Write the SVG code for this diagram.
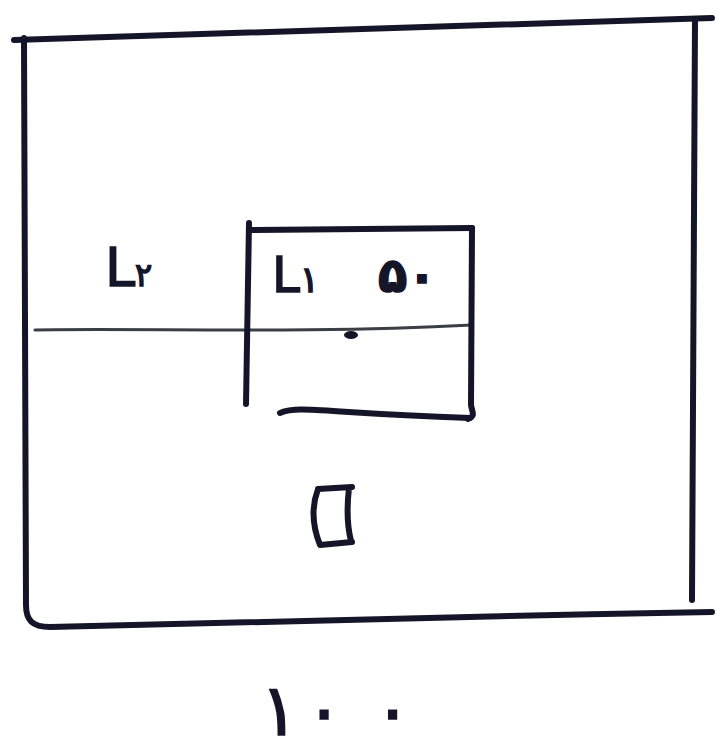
<svg xmlns="http://www.w3.org/2000/svg" width="717" height="752" viewBox="0 0 717 752">
<style>
.ink{fill:none;stroke:#15152a;stroke-linecap:round;stroke-linejoin:round}
.thick{stroke-width:6}
.thin{stroke-width:3;stroke:#3a3f45}
.lbl{font-family:"DejaVu Sans","Liberation Sans",sans-serif;fill:#15152a;stroke:#15152a;stroke-width:1.5}
</style>
<rect width="717" height="752" fill="#ffffff"/>
<g id="outer">
<path class="ink thick" d="M14,40 C200,32 450,26 712,18"/>
<path class="ink thick" d="M24,38 L26,605 C26,620 32,627 50,627 C300,622 500,615 712,612"/>
<path class="ink thick" d="M695,20 L692,600"/>
</g>
<g id="divider">
<path class="ink thin" d="M35,330 C150,328 300,334 472,325"/>
</g>
<g id="inner">
<path class="ink thick" d="M249,223 L246,404"/>
<path class="ink thick" d="M250,230 L472,228"/>
<path class="ink thick" d="M472,228 L471,405 C472,412 476,416 468,419"/>
<path class="ink thick" d="M280,413 C300,405 320,413 470,418"/>
</g>
<g id="labels">
<text class="lbl" x="105" y="286" font-size="54">L<tspan font-size="32">۲</tspan></text>
<text class="lbl" x="272" y="292" font-size="50">L<tspan font-size="36">۱</tspan></text>
<text class="lbl" x="378" y="292" font-size="48" font-weight="bold">۵۰</text>
<ellipse cx="351" cy="335" rx="7" ry="4" fill="#15152a"/>
<path class="ink" stroke-width="6" d="M318,489 L352,487 M318,489 C312,505 312,525 320,545 L352,542 M349,488 C347,505 347,525 351,541"/>
<text class="lbl" x="260" y="735" font-size="72" stroke-width="3">۱<tspan dx="6">۰</tspan><tspan dx="30">۰</tspan></text>
</g>
</svg>
